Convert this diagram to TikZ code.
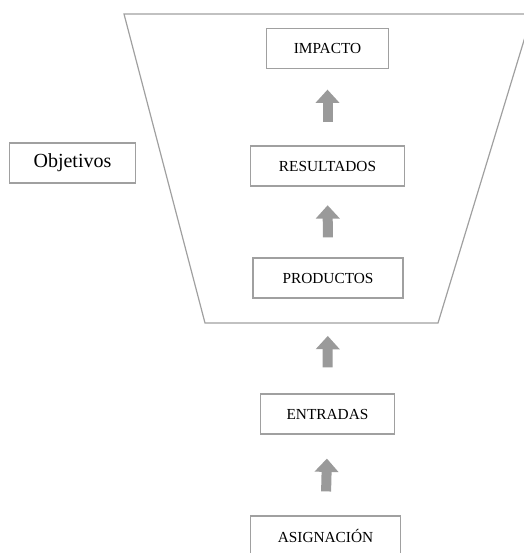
\documentclass[tikz,border=0pt]{standalone}
\usepackage{fontspec}
\setmainfont{Liberation Serif}
\usetikzlibrary{arrows.meta}
\definecolor{linegray}{HTML}{A0A0A0}
\definecolor{arrowgray}{HTML}{9A9A9A}
\tikzset{
    box/.style={draw=linegray, line width=0.9pt, fill=white, inner sep=0pt,
        minimum height=30pt, font=\fontsize{11.5}{13}\selectfont},
    uparrow/.style={draw=arrowgray, line width=7.5pt,
        -{Triangle[width=17.5pt, length=10pt]}},
}
\begin{document}
\begin{tikzpicture}[x=0.75pt, y=-0.75pt]
    \useasboundingbox (0,0) rectangle (524,553);
    % funnel
    \draw[linegray, line width=0.9pt] (124,14) -- (205,323) -- (438,323) -- (532,14) -- cycle;
    \node[box, minimum width=92pt] (imp) at (327.5,48.5) {IMPACTO};
    \node[box, minimum width=116pt] (res) at (327.5,166) {RESULTADOS};
    \node[box, minimum width=112.5pt] (prod) at (328,278) {PRODUCTOS};
    \node[box, minimum width=101pt] (ent) at (327.5,414) {ENTRADAS};
    \node[box, minimum width=112pt] (asig) at (325.5,536) {ASIGNACIÓN};
    \node[box, minimum width=94pt, font=\fontsize{15}{17}\selectfont] (obj) at (72.5,163) {Objetivos};
    % arrows
    \draw[uparrow, shorten <=17.5pt, shorten >=15.4pt] (res.north) -- (imp.south);
    \draw[uparrow, shorten <=15pt, shorten >=14pt] (prod.north) -- (res.south);
    \draw[uparrow, shorten <=19.5pt, shorten >=28pt] (ent.north) -- (prod.south);
    \draw[uparrow, shorten <=18pt, shorten >=18pt] (asig.north) -- (ent.south);
\end{tikzpicture}
\end{document}
